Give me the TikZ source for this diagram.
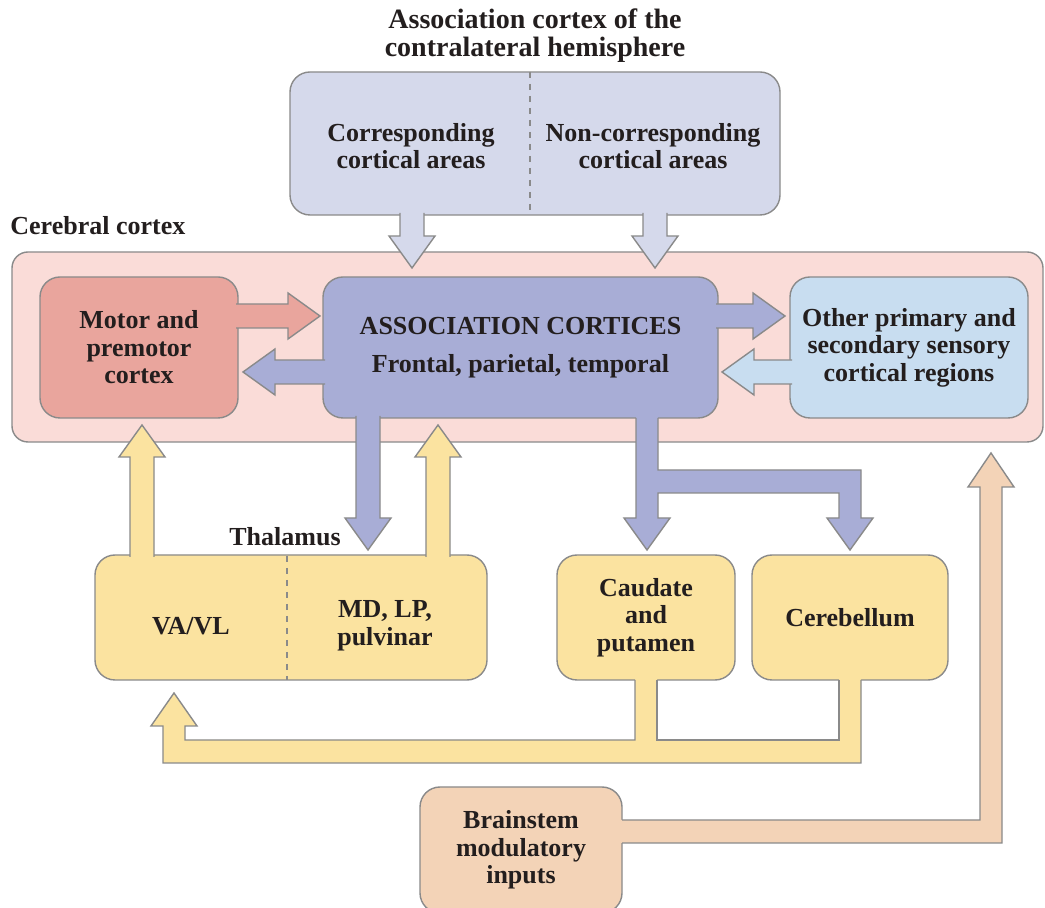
\documentclass[tikz,border=0pt]{standalone}
\usepackage{fontspec}
\setmainfont{Liberation Serif}
\definecolor{topc}{HTML}{D5D9EB}
\definecolor{cortc}{HTML}{FADCD8}
\definecolor{motc}{HTML}{E9A59D}
\definecolor{assc}{HTML}{A8ADD6}
\definecolor{othc}{HTML}{C8DDF0}
\definecolor{yelc}{HTML}{FBE3A0}
\definecolor{begc}{HTML}{F3D3B7}
\definecolor{linec}{HTML}{8A8A8A}
\definecolor{txtc}{HTML}{231E1E}
\newcommand{\vfat}[4]{%
  \pgfmathsetmacro{\fatHB}{#4-32*sign(#4-#3)}%
  \fill[#1] (#2-12,#3) -- (#2-12,\fatHB) -- (#2-23,\fatHB) -- (#2,#4) -- (#2+23,\fatHB) -- (#2+12,\fatHB) -- (#2+12,#3) -- cycle;
  \draw[outl] (#2-12,#3) -- (#2-12,\fatHB) -- (#2-23,\fatHB) -- (#2,#4) -- (#2+23,\fatHB) -- (#2+12,\fatHB) -- (#2+12,#3);
}
\newcommand{\hfat}[4]{%
  \pgfmathsetmacro{\fatHB}{#4-32*sign(#4-#3)}%
  \fill[#1] (#3,#2-12) -- (\fatHB,#2-12) -- (\fatHB,#2-23) -- (#4,#2) -- (\fatHB,#2+23) -- (\fatHB,#2+12) -- (#3,#2+12) -- cycle;
  \draw[outl] (#3,#2-12) -- (\fatHB,#2-12) -- (\fatHB,#2-23) -- (#4,#2) -- (\fatHB,#2+23) -- (\fatHB,#2+12) -- (#3,#2+12);
}
\begin{document}
\begin{tikzpicture}[x=0.5pt,y=-0.5pt,
  box/.style={draw=linec, line width=0.7pt, rounded corners=10pt, inner sep=0pt, font=\bfseries\fontsize{13}{13.8}\selectfont, text=txtc, align=center},
  lbl/.style={font=\bfseries\fontsize{13}{13.8}\selectfont, text=txtc, align=center, inner sep=0pt},
  outl/.style={draw=linec, line width=0.7pt, line join=miter}]
\fill[white] (0,0) rectangle (1045,908);
\useasboundingbox (0,0) rectangle (1045,908);

% title
\node[lbl, font=\bfseries\fontsize{14}{14}\selectfont] (title) at (535,36) {Association cortex of the\\contralateral hemisphere};

% top box
\node[box, fill=topc, minimum width=245pt, minimum height=71.5pt] (top) at (535,143.5) {};
\draw[linec, line width=0.7pt, dashed] (530,72) -- (530,215);
\node[lbl] (topl) at (411,146) {Corresponding\\cortical areas};
\node[lbl] (topr) at (653,146) {Non-corresponding\\cortical areas};

% cerebral cortex
\node[lbl, anchor=west] (cclbl) at (10,226) {Cerebral cortex};
\node[box, fill=cortc, rounded corners=8pt, minimum width=515.5pt, minimum height=95pt] (cortex) at (527.5,347) {};
\node[box, fill=motc, minimum width=99pt, minimum height=70.5pt] (motor) at (139,347.5) {Motor and\\premotor\\cortex};
\node[box, fill=assc, minimum width=197.5pt, minimum height=70.5pt] (assoc) at (520.5,347.5) {ASSOCIATION CORTICES\\[5pt]Frontal, parietal, temporal};
\node[box, fill=othc, minimum width=119pt, minimum height=70.5pt] (other) at (909,347.5) {Other primary and\\secondary sensory\\cortical regions};

% lower boxes
\node[box, fill=yelc, minimum width=196pt, minimum height=62.5pt] (thal) at (291,617.5) {};
\draw[linec, line width=0.7pt, dashed] (287,556) -- (287,680);
\node[lbl] (vavl) at (191,626) {VA/VL};
\node[lbl] (mdlp) at (385,626) {MD, LP,\\pulvinar};
\node[lbl] (thlbl) at (285,537) {Thalamus};
\node[box, fill=yelc, minimum width=89pt, minimum height=62.5pt] (caud) at (646,617.5) {Caudate\\and\\putamen};
\node[box, fill=yelc, minimum width=98pt, minimum height=62.5pt] (cereb) at (850,617.5) {Cerebellum};
\node[box, fill=begc, minimum width=101pt, minimum height=63pt] (brain) at (521,850) {Brainstem\\modulatory\\inputs};

% fat arrows
\vfat{topc}{412}{213}{268}
\vfat{topc}{655}{213}{268}
\hfat{motc}{316}{236}{320}
\hfat{assc}{372}{325}{243}
\hfat{assc}{316}{716}{785}
\hfat{othc}{372}{792}{722}
\vfat{assc}{368}{416}{550}
\vfat{yelc}{142}{557}{425}
\vfat{yelc}{438}{557}{425}

% association -> caudate and cerebellum
\fill[assc] (636,416) -- (636,518) -- (624,518) -- (647,550) -- (670,518) -- (658,518) -- (658,493) -- (839,493) -- (839,518) -- (827,518) -- (850,550) -- (873,518) -- (861,518) -- (861,470) -- (658,470) -- (658,416) -- cycle;
\draw[outl] (636,418) -- (636,518) -- (624,518) -- (647,550) -- (670,518) -- (658,518) -- (658,493) -- (839,493) -- (839,518) -- (827,518) -- (850,550) -- (873,518) -- (861,518) -- (861,470) -- (658,470) -- (658,418);

% caudate, cerebellum -> VA/VL
\fill[yelc] (839,678) -- (839,740) -- (657,740) -- (657,678) -- (635,678) -- (635,740) -- (185,740) -- (185,726) -- (197,726) -- (174,693) -- (151,726) -- (163,726) -- (163,763) -- (861,763) -- (861,678) -- cycle;
\draw[outl] (839,680) -- (839,740) -- (657,740) -- (657,680);
\draw[outl] (635,680) -- (635,740) -- (185,740) -- (185,726) -- (197,726) -- (174,693) -- (151,726) -- (163,726) -- (163,763) -- (861,763) -- (861,680);

% brainstem -> cortex
\fill[begc] (620,820) -- (980,820) -- (980,487) -- (968,487) -- (991,453) -- (1014,487) -- (1002,487) -- (1002,843) -- (620,843) -- cycle;
\draw[outl] (622,820) -- (980,820) -- (980,487) -- (968,487) -- (991,453) -- (1014,487) -- (1002,487) -- (1002,843) -- (622,843);
\end{tikzpicture}
\end{document}
